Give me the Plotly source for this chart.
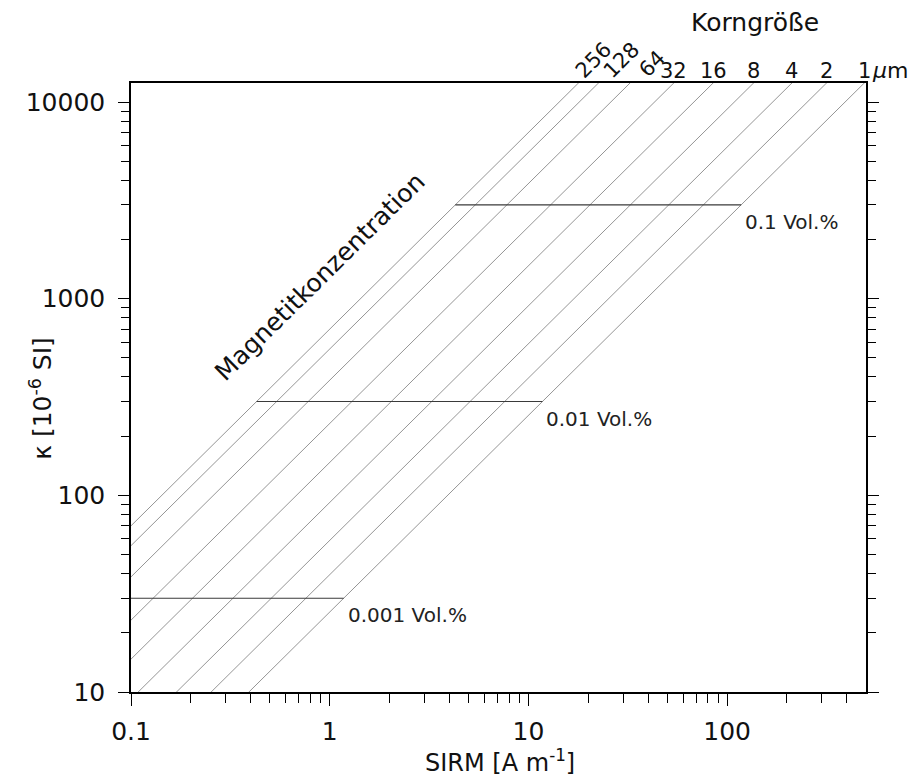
import math
import plotly.graph_objects as go

# ---- data ----
X_RANGE = [0.1, 500]          # SIRM [A/m]
Y_RANGE = [10, 12500]         # kappa [1e-6 SI]
X_TICKS = [0.1, 1, 10, 100]
X_TICK_TEXT = ["0.1", "1", "10", "100"]
Y_TICKS = [10, 100, 1000, 10000]
Y_TICK_TEXT = ["10", "100", "1000", "10000"]

GRAIN_SIZES = ["256", "128", "64", "32", "16", "8", "4", "2", "1"]          # µm
KAPPA_PER_SIRM = [700, 555, 385, 232, 147, 92, 59, 39.5, 25.5]             # slope of each line

VOL_LABELS = ["0.001 Vol.%", "0.01 Vol.%", "0.1 Vol.%"]
VOL_KAPPA = [30, 300, 3000]

# label styling (rotated labels and their horizontal offset in px)
ROTATED_SHIFT = {"256": 15, "128": 23, "64": 22}

FONT = "DejaVu Sans"
LINE_GREY = "#7a7a7a"

fig = go.Figure()

# grain-size lines (kappa = c * SIRM)
for g, c in zip(GRAIN_SIZES, KAPPA_PER_SIRM):
    xs = [X_RANGE[0] / 10, X_RANGE[1] * 10]
    fig.add_trace(go.Scatter(x=xs, y=[c * v for v in xs], mode="lines",
                             line=dict(color=LINE_GREY, width=0.8),
                             hoverinfo="skip", showlegend=False))

# magnetite concentration lines: from the 256 µm line to the 1 µm line
for lab, k in zip(VOL_LABELS, VOL_KAPPA):
    x0 = k / KAPPA_PER_SIRM[0]
    x1 = k / KAPPA_PER_SIRM[-1]
    fig.add_trace(go.Scatter(x=[x0, x1], y=[k, k], mode="lines",
                             line=dict(color="#3a3a3a", width=1.1),
                             hoverinfo="skip", showlegend=False))
    fig.add_annotation(x=math.log10(x1), y=math.log10(k), text=lab, showarrow=False,
                       xanchor="left", yanchor="top", xshift=2, yshift=-3,
                       font=dict(family=FONT, size=20, color="#222"))

# grain-size labels at the top edge
top = Y_RANGE[1]
for g, c in zip(GRAIN_SIZES, KAPPA_PER_SIRM):
    xc = math.log10(top / c)
    if g in ROTATED_SHIFT:
        fig.add_annotation(x=xc, y=1.0, yref="paper", text=g, showarrow=False,
                           textangle=-45, xanchor="center", yanchor="bottom",
                           xshift=ROTATED_SHIFT[g], yshift=-2,
                           font=dict(family=FONT, size=21, color="#111"))
    else:
        fig.add_annotation(x=xc, y=1.0, yref="paper", text=g, showarrow=False,
                           xanchor="center", yanchor="bottom", yshift=-2,
                           font=dict(family=FONT, size=21, color="#111"))

fig.add_annotation(x=1.005, y=1.0, xref="paper", yref="paper", text="<i>µ</i>m",
                   showarrow=False, xanchor="left", yanchor="bottom", yshift=-2,
                   font=dict(family=FONT, size=22, color="#111"))
fig.add_annotation(x=0.849, y=1.099, xref="paper", yref="paper", text="Korngröße",
                   showarrow=False, xanchor="center", yanchor="middle",
                   font=dict(family=FONT, size=25, color="#111"))
fig.add_annotation(x=0.257, y=0.683, xref="paper", yref="paper",
                   text="Magnetitkonzentration", showarrow=False, textangle=-44.7,
                   xanchor="center", yanchor="middle",
                   font=dict(family=FONT, size=25, color="#111"))

# axis titles
fig.add_annotation(x=0.502, y=-0.113, xref="paper", yref="paper",
                   text="SIRM [A m<sup>-1</sup>]", showarrow=False,
                   xanchor="center", yanchor="middle",
                   font=dict(family=FONT, size=24, color="#111"))
fig.add_annotation(x=-0.122, y=0.482, xref="paper", yref="paper",
                   text="κ [10<sup>-6</sup> SI]", showarrow=False, textangle=-90,
                   xanchor="center", yanchor="middle",
                   font=dict(family=FONT, size=25, color="#111"))

def minor_vals(lo, hi):
    out = []
    d = 10 ** math.floor(math.log10(lo))
    while d <= hi:
        for m in range(2, 10):
            v = m * d
            if lo < v < hi:
                out.append(v)
        d *= 10
    return out

fig.update_xaxes(type="log", range=[math.log10(X_RANGE[0]), math.log10(X_RANGE[1])],
                 showgrid=False, zeroline=False, showline=True, linecolor="black",
                 linewidth=1.5, mirror=True, ticks="outside", ticklen=12, tickwidth=1.4,
                 tickcolor="black", tickvals=X_TICKS, ticktext=X_TICK_TEXT,
                 ticklabelstandoff=4,
                 tickfont=dict(family=FONT, size=25, color="#111"),
                 minor=dict(ticks="outside", ticklen=9, tickwidth=1.2, tickcolor="black",
                            tickvals=minor_vals(*X_RANGE), showgrid=False))
fig.update_yaxes(type="log", range=[math.log10(Y_RANGE[0]), math.log10(Y_RANGE[1])],
                 showgrid=False, zeroline=False, showline=True, linecolor="black",
                 linewidth=1.5, mirror="ticks", ticks="outside", ticklen=11, tickwidth=1.4,
                 tickcolor="black", tickvals=Y_TICKS, ticktext=Y_TICK_TEXT,
                 ticklabelstandoff=8,
                 tickfont=dict(family=FONT, size=25, color="#111"),
                 minor=dict(ticks="outside", ticklen=8, tickwidth=1.2, tickcolor="black",
                            tickvals=minor_vals(*Y_RANGE), showgrid=False))

fig.update_layout(width=914, height=781, paper_bgcolor="white", plot_bgcolor="white",
                  margin=dict(l=131, r=48, t=83, b=89), showlegend=False,
                  font=dict(family=FONT))

fig.write_html("out.html")
